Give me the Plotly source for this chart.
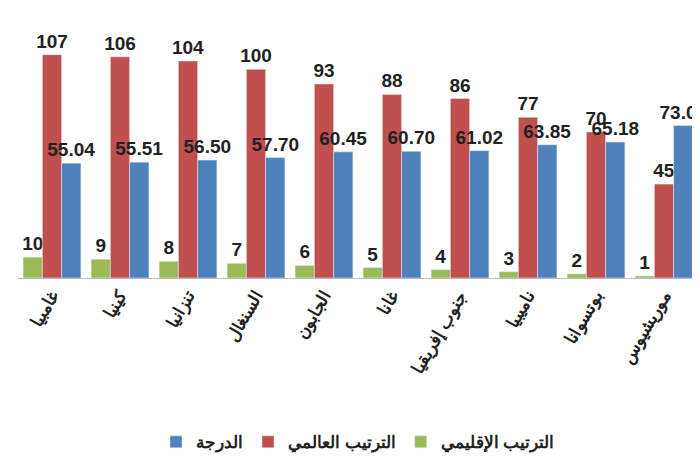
import plotly.graph_objects as go

categories = ["غامبيا", "كينيا", "تنزانيا", "السنغال", "الجابون", "غانا", "جنوب إفريقيا", "ناميبيا", "بوتسوانا", "موريشيوس"]
regional = [10, 9, 8, 7, 6, 5, 4, 3, 2, 1]
global_rank = [107, 106, 104, 100, 93, 88, 86, 77, 70, 45]
score = [55.04, 55.51, 56.50, 57.70, 60.45, 60.70, 61.02, 63.85, 65.18, 73.08]

F = dict(family="Liberation Sans", size=19, color="#222")
fig = go.Figure()
fig.add_bar(x=categories, y=regional, name="<b>الترتيب الإقليمي</b>", marker_color="#9bbb59",
            text=[f"<b>{v}</b>" for v in regional], textposition="outside", textfont=F, cliponaxis=False)
fig.add_bar(x=categories, y=global_rank, name="<b>الترتيب العالمي</b>", marker_color="#c0504d",
            text=[f"<b>{v}</b>" for v in global_rank], textposition="outside", textfont=F, cliponaxis=False)
fig.add_bar(x=categories, y=score, name="<b>الدرجة</b>", marker_color="#4f81bd",
            text=[f"<b>{v:.2f}</b>" for v in score], textposition="outside", textfont=F, cliponaxis=False)
fig.update_layout(
    width=700, height=457, plot_bgcolor="white", paper_bgcolor="white",
    margin=dict(l=10, r=10, t=5, b=174), barmode="group", bargap=0.15, bargroupgap=0,
    font=dict(family="Liberation Sans", color="#222"),
    uniformtext=dict(minsize=19, mode="show"),
    legend=dict(orientation="h", x=0.5, xanchor="center", y=-0.62, yanchor="middle",
                traceorder="reversed", font=dict(size=17, family="Liberation Sans")),
    showlegend=True,
)
fig.update_xaxes(tickangle=-60, tickfont=dict(size=17, family="Liberation Sans"),
                 showline=True, linecolor="#bbb", ticks="",
                 tickvals=categories, ticktext=[f"<b>{c}</b>" for c in categories])
fig.update_yaxes(visible=False, range=[0, 127])
fig.write_html("out.html")
